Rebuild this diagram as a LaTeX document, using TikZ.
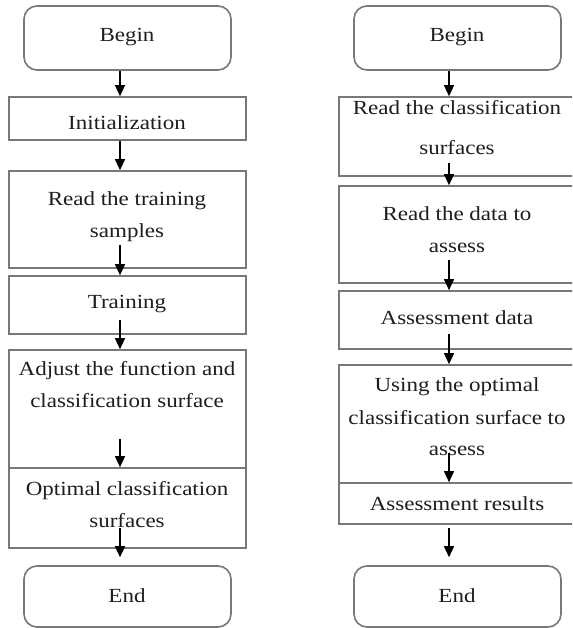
\documentclass[tikz,border=0pt]{standalone}
\usepackage{fontspec}
\setmainfont{Liberation Serif}[FakeStretch=1.15]
\usetikzlibrary{arrows.meta}
\definecolor{boxgray}{RGB}{120,120,120}
\definecolor{txt}{RGB}{30,30,30}
\tikzset{
  box/.style={draw=boxgray, line width=1.6pt, inner sep=0pt, fill=none},
  term/.style={box, rounded corners=13pt},
  lbl/.style={anchor=base, inner sep=0pt, text=txt, font=\fontsize{20}{24}\selectfont},
  arr/.style={draw=black, line width=1.4pt, -{Triangle[width=10pt,length=11pt]}}
}
\begin{document}
\begin{tikzpicture}[x=1pt,y=-1pt]
\useasboundingbox (0,0) rectangle (572,628);
\clip (0,0) rectangle (572,628);
\fill[white] (0,0) rectangle (572,628);
% ---------- left column ----------
\node[term, minimum width=207pt, minimum height=64pt] (lbegin) at (127.5,38) {};
\node[box, minimum width=237pt, minimum height=43pt] (linit) at (127.5,118.5) {};
\node[box, minimum width=237pt, minimum height=97pt] (lread) at (127.5,219.5) {};
\node[box, minimum width=237pt, minimum height=58pt] (ltrain) at (127.5,305) {};
\node[box, minimum width=237pt, minimum height=118pt] (ladj) at (127.5,409) {};
\node[box, minimum width=237pt, minimum height=80pt] (lopt) at (127.5,508) {};
\node[term, minimum width=207pt, minimum height=61pt] (lend) at (127.5,596.5) {};

\node[lbl] (tlb) at (127,42) {Begin};
\node[lbl] (tli) at (127,130) {Initialization};
\node[lbl] (tlr1) at (127,205) {Read the training};
\node[lbl] (tlr2) at (127,237) {samples};
\node[lbl] (tlt) at (127,308) {Training};
\node[lbl] (tla1) at (127,375) {Adjust the function and};
\node[lbl] (tla2) at (127,407) {classification surface};
\node[lbl] (tlo1) at (127,495) {Optimal classification};
\node[lbl] (tlo2) at (127,527) {surfaces};
\node[lbl] (tle) at (127,602) {End};

\coordinate (axl) at (120,0);
\coordinate (sl3) at (120,245);
\coordinate (sl4) at (120,320);
\coordinate (sl5) at (120,439);
\coordinate (sl6) at (120,528);
\draw[arr] (lbegin.south -| axl) -- (linit.north -| axl);
\draw[arr] (linit.south -| axl) -- (lread.north -| axl);
\draw[arr] (sl3) -- (ltrain.north -| axl);
\draw[arr] (sl4) -- (ladj.north -| axl);
\draw[arr] (sl5) -- (lopt.north -| axl);
\draw[arr, shorten >=8pt] (sl6) -- (lend.north -| axl);

% ---------- right column ----------
\node[term, minimum width=207pt, minimum height=64pt] (rbegin) at (457.5,38) {};
\node[box, minimum width=246pt, minimum height=79pt] (rread) at (462,136.5) {};
\node[box, minimum width=246pt, minimum height=97pt] (rdata) at (462,234.5) {};
\node[box, minimum width=246pt, minimum height=58pt] (rassess) at (462,320) {};
\node[box, minimum width=246pt, minimum height=118pt] (rusing) at (462,424) {};
\node[box, minimum width=246pt, minimum height=41pt] (rres) at (462,503.5) {};
\node[term, minimum width=207pt, minimum height=61pt] (rend) at (457.5,596.5) {};

\node[lbl] (trb) at (457,42) {Begin};
\node[lbl] (trr1) at (457,115) {Read the classification};
\node[lbl] (trr2) at (457,155) {surfaces};
\node[lbl] (trd1) at (457,220) {Read the data to};
\node[lbl] (trd2) at (457,252) {assess};
\node[lbl] (tra) at (457,324) {Assessment data};
\node[lbl] (tru1) at (457,391) {Using the optimal};
\node[lbl] (tru2) at (457,424) {classification surface to};
\node[lbl] (tru3) at (457,455) {assess};
\node[lbl] (trs) at (457,510) {Assessment results};
\node[lbl] (tre) at (457,602) {End};

\coordinate (axr) at (449,0);
\coordinate (sr2) at (449,163);
\coordinate (sr3) at (449,260);
\coordinate (sr4) at (449,334);
\coordinate (sr5) at (449,453);
\coordinate (sr6) at (449,528);
\draw[arr] (rbegin.south -| axr) -- (rread.north -| axr);
\draw[arr] (sr2) -- (rdata.north -| axr);
\draw[arr] (sr3) -- (rassess.north -| axr);
\draw[arr] (sr4) -- (rusing.north -| axr);
\draw[arr] (sr5) -- (rres.north -| axr);
\draw[arr, shorten >=8pt] (sr6) -- (rend.north -| axr);
\end{tikzpicture}
\end{document}
